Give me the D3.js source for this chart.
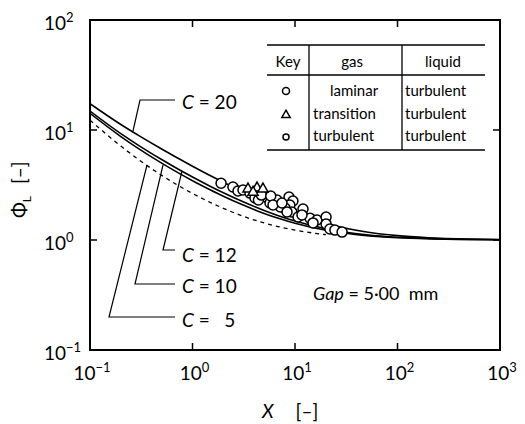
<!DOCTYPE html>
<html>
<head>
<meta charset="utf-8">
<script src="https://cdn.jsdelivr.net/npm/d3@7"></script>
<style>
  body { margin: 0; background: #fff; }
  text { font-family: "Lato", "DejaVu Sans", sans-serif; fill: #000; }
</style>
</head>
<body>
<svg id="chart" width="525" height="424"></svg>
<script>
// values
var xs = [0.1, 0.2, 0.3, 0.5, 0.7, 1, 1.5, 2, 3, 5, 7, 10, 20, 50, 100, 200, 500, 1000];
var phiC20 = [17.35, 11.22, 8.88, 6.71, 5.62, 4.69, 3.84, 3.35, 2.79, 2.245, 1.97, 1.735, 1.415, 1.183, 1.095, 1.049, 1.02, 1.01];
var phiC12 = [14.87, 9.27, 7.22, 5.39, 4.49, 3.74, 3.07, 2.69, 2.26, 1.855, 1.654, 1.487, 1.266, 1.114, 1.058, 1.03, 1.012, 1.006];
var phiC10 = [14.18, 8.72, 6.74, 5.0, 4.16, 3.46, 2.85, 2.5, 2.11, 1.744, 1.565, 1.418, 1.226, 1.096, 1.049, 1.025, 1.01, 1.005];
var phiC5 = [12.29, 7.14, 5.36, 3.87, 3.19, 2.65, 2.19, 1.94, 1.667, 1.428, 1.317, 1.229, 1.119];

var circX = [1.9, 2.48, 2.78, 3.11, 3.64, 5.21, 6.67, 8.74, 9.55, 8.9, 7.99, 11.97, 9.3, 10.7, 14.0, 16.4, 20.1, 20.1, 21.9, 24.5, 28.8, 15.0, 4.07, 4.4, 5.7, 7.2, 4.7, 5.8, 6.1, 7.46, 8.36, 11.7];
var circY = [3.28, 3.03, 2.79, 2.85, 2.67, 2.46, 2.31, 2.46, 2.26, 2.08, 1.95, 1.91, 1.80, 1.62, 1.58, 1.52, 1.62, 1.40, 1.26, 1.23, 1.18, 1.43, 2.41, 2.31, 2.17, 2.0, 2.56, 2.51, 2.08, 2.17, 1.80, 1.69];
var triX = [3.48, 4.26, 4.87, 3.9];
var triY = [2.91, 2.97, 2.91, 2.72];

var xTicks = [0.1, 1, 10, 100, 1000];
var yTicks = [0.1, 1, 10, 100];

var keyHead = ["Key", "gas", "liquid"];
var keyGas = ["laminar", "transition", "turbulent"];
var keyLiq = ["turbulent", "turbulent", "turbulent"];

(function(){
var svg = d3.select("#chart");
var mLeft = 90, mRight = 500, mTop = 20, mBottom = 350;

var x = d3.scaleLog().domain([0.1, 1000]).range([mLeft, mRight]);
var y = d3.scaleLog().domain([0.1, 100]).range([mBottom, mTop]);

// frame
svg.append("rect")
    .attr("x", mLeft).attr("y", mTop)
    .attr("width", mRight - mLeft).attr("height", mBottom - mTop)
    .attr("fill", "none").attr("stroke", "#000").attr("stroke-width", 2);

// inward ticks
xTicks.slice(1, -1).forEach(function(t){
    svg.append("line").attr("x1", x(t)).attr("x2", x(t)).attr("y1", mBottom).attr("y2", mBottom - 7)
        .attr("stroke", "#000").attr("stroke-width", 1.5);
    svg.append("line").attr("x1", x(t)).attr("x2", x(t)).attr("y1", mTop).attr("y2", mTop + 7)
        .attr("stroke", "#000").attr("stroke-width", 1.5);
});
yTicks.slice(1, -1).forEach(function(t){
    svg.append("line").attr("x1", mLeft).attr("x2", mLeft + 7).attr("y1", y(t)).attr("y2", y(t))
        .attr("stroke", "#000").attr("stroke-width", 1.5);
    svg.append("line").attr("x1", mRight).attr("x2", mRight - 7).attr("y1", y(t)).attr("y2", y(t))
        .attr("stroke", "#000").attr("stroke-width", 1.5);
});

// tick labels
function pow10(g, t){
    var e = Math.round(Math.log10(t));
    g.append("tspan").text("10");
    g.append("tspan").attr("dy", -8).attr("font-size", 13).text(e < 0 ? "\u2212" + (-e) : e);
}
xTicks.forEach(function(t){
    var g = svg.append("text").attr("x", x(t) + 2).attr("y", 380)
        .attr("text-anchor", "middle").attr("font-size", 19);
    pow10(g, t);
});
yTicks.forEach(function(t){
    var g = svg.append("text").attr("x", 44).attr("y", y(t) + 10)
        .attr("font-size", 19);
    pow10(g, t);
});

// axis titles
var xt = svg.append("text").attr("x", 262).attr("y", 418).attr("font-size", 19);
xt.append("tspan").attr("font-style", "italic").text("X");
xt.append("tspan").attr("dx", 22).text("[\u2013]");

var yt = svg.append("text").attr("transform", "translate(26,218) rotate(-90)").attr("font-size", 19);
yt.append("tspan").text("\u03a6");
yt.append("tspan").attr("dy", 5).attr("font-size", 12).text("L");
yt.append("tspan").attr("dy", -5).attr("dx", 12).text("[\u2013]");

// curves
var line = d3.line().x(function(d){ return x(d[0]); }).y(function(d){ return y(d[1]); })
    .curve(d3.curveMonotoneX);
svg.append("clipPath").attr("id", "clip").append("rect")
    .attr("x", mLeft).attr("y", mTop).attr("width", mRight - mLeft).attr("height", mBottom - mTop);

[phiC20, phiC12, phiC10].forEach(function(s){
    svg.append("path").attr("d", line(d3.zip(xs, s)))
        .attr("fill", "none").attr("stroke", "#000").attr("stroke-width", 1.6)
        .attr("clip-path", "url(#clip)");
});
svg.append("path").attr("d", line(d3.zip(xs.slice(0, phiC5.length), phiC5)))
    .attr("fill", "none").attr("stroke", "#000").attr("stroke-width", 1.3)
    .attr("stroke-dasharray", "4,4").attr("clip-path", "url(#clip)");

// markers
svg.selectAll("circle.pt").data(d3.zip(circX, circY)).enter().append("circle")
    .attr("class", "pt")
    .attr("cx", function(d){ return x(d[0]); })
    .attr("cy", function(d){ return y(d[1]); })
    .attr("r", 5).attr("fill", "#fff").attr("stroke", "#000").attr("stroke-width", 1.5);
var tri = d3.symbol().type(d3.symbolTriangle).size(45);
svg.selectAll("path.tri").data(d3.zip(triX, triY)).enter().append("path")
    .attr("class", "tri").attr("d", tri)
    .attr("transform", function(d){ return "translate(" + x(d[0]) + "," + y(d[1]) + ")"; })
    .attr("fill", "#fff").attr("stroke", "#000").attr("stroke-width", 1.5);

// curve labels with leaders
var labels = [
    {t: "20", pts: [[175, 100], [140, 100], [133, 131]], ty: 109},
    {t: "12", pts: [[175, 250], [163, 250], [182, 171]], ty: 262},
    {t: "10", pts: [[175, 284], [135, 284], [163, 165]], ty: 293},
    {t: "  5", pts: [[175, 317], [109, 317], [147, 165]], ty: 327}
];
labels.forEach(function(l){
    svg.append("polyline").attr("points", l.pts.map(function(p){ return p.join(","); }).join(" "))
        .attr("fill", "none").attr("stroke", "#000").attr("stroke-width", 1.2);
    var tx = svg.append("text").attr("x", 182).attr("y", l.ty).attr("font-size", 19)
        .style("white-space", "pre");
    tx.append("tspan").attr("font-style", "italic").text("C");
    tx.append("tspan").text(" = " + l.t);
});

// Gap note
var gap = svg.append("text").attr("x", 313).attr("y", 300).attr("font-size", 18)
    .style("white-space", "pre");
gap.append("tspan").attr("font-style", "italic").text("Gap");
gap.append("tspan").text(" = 5\u00b700  mm");

// key table
var kx0 = 267, kx1 = 485, kv1 = 309, kv2 = 402;
[45, 75, 150].forEach(function(yy){
    svg.append("line").attr("x1", kx0).attr("x2", kx1).attr("y1", yy).attr("y2", yy)
        .attr("stroke", "#000").attr("stroke-width", 1.3);
});
[kv1, kv2].forEach(function(xx){
    svg.append("line").attr("x1", xx).attr("x2", xx).attr("y1", 45).attr("y2", 150)
        .attr("stroke", "#000").attr("stroke-width", 1.3);
});
var headX = [288, 352, 443];
keyHead.forEach(function(h, i){
    svg.append("text").attr("x", headX[i]).attr("y", 67).attr("text-anchor", "middle")
        .attr("font-size", 15).text(h);
});
var rowY = [96, 119, 141];
keyGas.forEach(function(g, i){
    svg.append("text").attr("x", i == 0 ? 354 : 313).attr("y", rowY[i])
        .attr("text-anchor", i == 0 ? "middle" : "start").attr("font-size", 15).text(g);
    svg.append("text").attr("x", 405).attr("y", rowY[i]).attr("font-size", 15).text(keyLiq[i]);
});
svg.append("circle").attr("cx", 286).attr("cy", 91).attr("r", 3.5)
    .attr("fill", "none").attr("stroke", "#000").attr("stroke-width", 1.5);
svg.append("path").attr("d", d3.symbol().type(d3.symbolTriangle).size(30))
    .attr("transform", "translate(286,115)")
    .attr("fill", "none").attr("stroke", "#000").attr("stroke-width", 1.5);
svg.append("circle").attr("cx", 286).attr("cy", 137).attr("r", 3)
    .attr("fill", "none").attr("stroke", "#000").attr("stroke-width", 1.5);
})();
</script>
</body>
</html>
